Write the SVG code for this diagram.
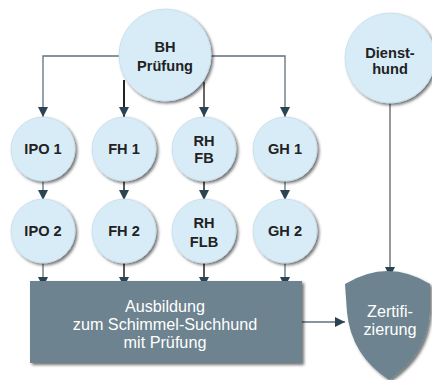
<svg xmlns="http://www.w3.org/2000/svg" width="432" height="380" viewBox="0 0 432 380">
<defs>
<style>
.c{fill:#d8ecf8;stroke:#c4dceb;stroke-width:0.8;filter:url(#sh)}
.t{font-family:"Liberation Sans",Arial,sans-serif;font-size:14.6px;font-weight:bold;fill:#222;text-anchor:middle}
.w{font-family:"Liberation Sans",Arial,sans-serif;font-size:16.2px;fill:#fff;text-anchor:middle}
.l{stroke:#5f717b;stroke-width:1.3;fill:none;marker-end:url(#ah)}
.d{stroke:#222;stroke-width:2;fill:none;marker-end:url(#ah)}
.g{fill:#6d838f;filter:url(#sh)}
</style>
<marker id="ah" viewBox="0 0 10 10" refX="10" refY="5" markerWidth="10" markerHeight="10" markerUnits="userSpaceOnUse" orient="auto">
<path d="M0,0 L10,5 L0,10 Z" fill="#2b4453"/>
</marker>
<filter id="sh" x="-20%" y="-20%" width="150%" height="150%">
<feDropShadow dx="2" dy="2" stdDeviation="1.5" flood-color="#000" flood-opacity="0.55"/>
</filter>
</defs>
<g id="connectors">
<path class="l" d="M120,56 L43,56 L43,117"/>
<path class="l" d="M210,56 L285,56 L285,117"/>
<path class="d" d="M124,80 L124,117"/>
<path class="l" d="M204,82 L204,117" style="stroke:#333;stroke-width:1.5"/>
<path class="l" d="M43,181 L43,200"/>
<path class="d" d="M124,181 L124,200" style="stroke-width:1.5"/>
<path class="d" d="M204,181 L204,200" style="stroke-width:1.5"/>
<path class="l" d="M285,181 L285,200"/>
<path class="l" d="M43,263 L43,287"/>
<path class="d" d="M124,263 L124,287" style="stroke-width:1.5"/>
<path class="d" d="M204,263 L204,287" style="stroke-width:1.5"/>
<path class="l" d="M285,263 L285,287"/>
<path class="l" d="M390,103 L390,277" style="stroke:#333;stroke-width:1"/>
<path class="l" d="M302,322 L345,322"/>
</g>
<g id="bh"><circle class="c" cx="165" cy="55" r="46"/><text class="t" x="165" y="52">BH</text><text class="t" x="165" y="71">Prüfung</text></g>
<g id="dienst"><circle class="c" cx="390" cy="58" r="45"/><text class="t" x="390" y="58">Dienst-</text><text class="t" x="390" y="74">hund</text></g>
<g id="ipo1"><circle class="c" cx="43" cy="149" r="32"/><text class="t" x="43" y="154">IPO 1</text></g>
<g id="fh1"><circle class="c" cx="124" cy="149" r="32"/><text class="t" x="124" y="154">FH 1</text></g>
<g id="rhfb"><circle class="c" cx="204" cy="149" r="32"/><text class="t" x="204" y="146">RH</text><text class="t" x="204" y="163">FB</text></g>
<g id="gh1"><circle class="c" cx="285" cy="149" r="32"/><text class="t" x="285" y="154">GH 1</text></g>
<g id="ipo2"><circle class="c" cx="43" cy="231" r="32"/><text class="t" x="43" y="236">IPO 2</text></g>
<g id="fh2"><circle class="c" cx="124" cy="231" r="32"/><text class="t" x="124" y="236">FH 2</text></g>
<g id="rhflb"><circle class="c" cx="204" cy="231" r="32"/><text class="t" x="204" y="228">RH</text><text class="t" x="204" y="247">FLB</text></g>
<g id="gh2"><circle class="c" cx="285" cy="231" r="32"/><text class="t" x="285" y="236">GH 2</text></g>
<g id="ausbildung"><rect class="g" x="30" y="281" width="272" height="82"/><text class="w" x="165" y="312">Ausbildung</text><text class="w" x="165" y="330">zum Schimmel-Suchhund</text><text class="w" x="165" y="348">mit Prüfung</text></g>
<g id="zert"><path class="g" d="M345,284 Q388,258 430,284 L430,312 Q427,355 389,380 Q351,355 347,312 Z"/><text class="w" x="390" y="317">Zertifi-</text><text class="w" x="390" y="335">zierung</text></g>
</svg>
